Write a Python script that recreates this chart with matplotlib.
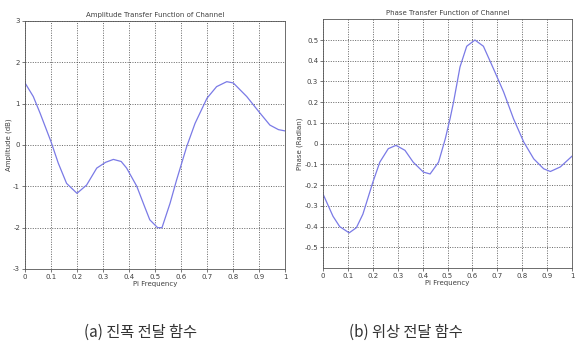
import matplotlib
matplotlib.use("Agg")
import matplotlib.pyplot as plt

amp_x = [0.0, 0.032, 0.058, 0.1, 0.128, 0.16, 0.2, 0.237, 0.276, 0.31, 0.34, 0.37, 0.391, 0.43, 0.46, 0.48,
         0.51, 0.527, 0.558, 0.583, 0.622, 0.654, 0.7, 0.737, 0.776, 0.801, 0.853, 0.9, 0.942, 0.975, 1.0]
amp_y = [1.5, 1.17, 0.77, 0.08, -0.44, -0.93, -1.17, -0.97, -0.56, -0.42, -0.35, -0.4, -0.56, -1.0, -1.49, -1.81,
         -2.0, -2.0, -1.41, -0.85, -0.04, 0.52, 1.13, 1.41, 1.53, 1.50, 1.17, 0.80, 0.48, 0.37, 0.34]

ph_x = [0.0, 0.04, 0.067, 0.105, 0.134, 0.16, 0.2, 0.228, 0.262, 0.293, 0.329, 0.362, 0.403, 0.43, 0.464, 0.491,
        0.51, 0.524, 0.55, 0.577, 0.61, 0.644, 0.685, 0.725, 0.765, 0.806, 0.846, 0.886, 0.913, 0.953, 1.0]
ph_y = [-0.243, -0.35, -0.40, -0.43, -0.405, -0.34, -0.186, -0.089, -0.024, -0.008, -0.032, -0.089, -0.137, -0.146,
        -0.089, 0.024, 0.12, 0.2, 0.37, 0.47, 0.5, 0.47, 0.36, 0.25, 0.12, 0.008, -0.073, -0.121, -0.134, -0.112, -0.06]

x_ticks = [0, 0.1, 0.2, 0.3, 0.4, 0.5, 0.6, 0.7, 0.8, 0.9, 1]
x_labels = ["0", "0.1", "0.2", "0.3", "0.4", "0.5", "0.6", "0.7", "0.8", "0.9", "1"]
amp_ticks = [-3, -2, -1, 0, 1, 2, 3]
amp_labels = ["-3", "-2", "-1", "0", "1", "2", "3"]
ph_ticks = [-0.5, -0.4, -0.3, -0.2, -0.1, 0, 0.1, 0.2, 0.3, 0.4, 0.5]
ph_labels = ["-0.5", "-0.4", "-0.3", "-0.2", "-0.1", "0", "0.1", "0.2", "0.3", "0.4", "0.5"]

titles = ["Amplitude Transfer Function of Channel", "Phase Transfer Function of Channel"]
ylabels = ["Amplitude (dB)", "Phase (Radian)"]
xlabel = "Pi Frequency"
captions = ["(a) 진폭 전달 함수", "(b) 위상 전달 함수"]

plt.rcParams['font.family'] = ['DejaVu Sans']
plt.rcParams['axes.unicode_minus'] = False
fig = plt.figure(figsize=(5.81, 3.57), dpi=100)
line_color = "#7a7ae6"
fs = 5
txt_color = "#404040"

ax1 = fig.add_axes([0.043, 0.2465, 0.4475, 0.695])
ax1.plot(amp_x, amp_y, color=line_color, lw=0.9)
ax1.set_xlim(0, 1)
ax1.set_ylim(-3, 3)
ax1.set_xticks(x_ticks)
ax1.set_xticklabels(x_labels)
ax1.set_yticks(amp_ticks)
ax1.set_yticklabels(amp_labels)

ax2 = fig.add_axes([0.556, 0.249, 0.4286, 0.697])
ax2.plot(ph_x, ph_y, color=line_color, lw=0.9)
ax2.set_xlim(0, 1)
ax2.set_ylim(-0.6, 0.6)
ax2.set_xticks(x_ticks)
ax2.set_xticklabels(x_labels)
ax2.set_yticks(ph_ticks)
ax2.set_yticklabels(ph_labels)

for ax, t, yl in [(ax1, titles[0], ylabels[0]), (ax2, titles[1], ylabels[1])]:
    ax.grid(True, color="#333333", linestyle=(0, (1.5, 2)), linewidth=0.5)
    ax.tick_params(labelsize=fs, length=2, width=0.5, pad=1.5, colors=txt_color)
    ax.set_title(t, fontsize=fs, pad=3, color=txt_color)
    ax.set_xlabel(xlabel, fontsize=fs, labelpad=1, color=txt_color)
    ax.set_ylabel(yl, fontsize=fs, labelpad=1, color=txt_color)
    for s in ax.spines.values():
        s.set_linewidth(0.6)
        s.set_color("#555555")

fig.text(140 / 581, 1 - 332 / 357, captions[0], fontsize=11, ha="center", va="center",
         family=["Noto Sans CJK KR", "DejaVu Sans"], color="#333333")
fig.text(406 / 581, 1 - 332 / 357, captions[1], fontsize=11, ha="center", va="center",
         family=["Noto Sans CJK KR", "DejaVu Sans"], color="#333333")

fig.savefig("out.png", dpi=100)
